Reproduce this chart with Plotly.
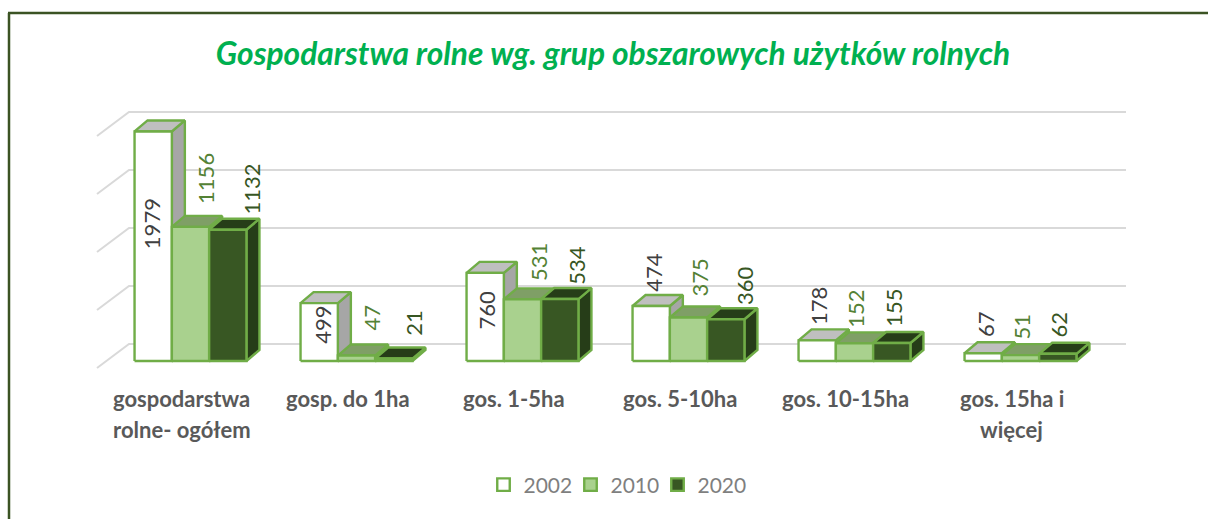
import plotly.graph_objects as go

TITLE = "Gospodarstwa rolne wg. grup obszarowych użytków rolnych"
CATEGORY_LINES = [
    ["gospodarstwa", "rolne- ogółem"],
    ["gosp. do 1ha"],
    ["gos. 1-5ha"],
    ["gos. 5-10ha"],
    ["gos. 10-15ha"],
    ["gos. 15ha i", "więcej"],
]
YEARS = ["2002", "2010", "2020"]
VALUES_2002 = [1979, 499, 760, 474, 178, 67]
VALUES_2010 = [1156, 47, 531, 375, 152, 51]
VALUES_2020 = [1132, 21, 534, 360, 155, 62]
GRID_VALUES = [0, 500, 1000, 1500, 2000]

# styling and layout (not data)
FONT = "Lato"
OUTLINE = "#70AD47"
FRONT = ["#FFFFFF", "#A9D18E", "#385723"]
TOP = ["#BFBFBF", "#7F9F66", "#263D18"]
SIDE = ["#A6A6A6", "#7F9F66", "#263D18"]
LABEL_COL = ["#404040", "#548235", "#375623"]

PX_PER_CAT = 166.0
PX_PER_VAL = 0.116
X0_PX, Y0_PX = 190.5, 361.0
L, R, T, B = 90, 1135, 100, 375
BAR_W = 37.3 / PX_PER_CAT
DX = 13 / PX_PER_CAT
DY = 11 / PX_PER_VAL
FLOOR_BACK = 17 / PX_PER_VAL
FLOOR_FRONT = -7 / PX_PER_VAL
GRID_X0 = (129 - X0_PX) / PX_PER_CAT
GRID_X1 = (1126 - X0_PX) / PX_PER_CAT
GRID_XF = (97 - X0_PX) / PX_PER_CAT
# per-label nudges in pixels from the bar's top-centre: (right, up)
NUDGE = [
    [(-1.5, -92), (2.5, -22), (1.5, -37), (1.5, 34), (1.5, 34), (2.5, 29)],
    [(15.5, 48), (15, 37.5), (16, 37), (10, 39.5), (1, 34), (1, 28)],
    [(24, 41), (20, 35.6), (16, 34), (18, 34), (1, 35), (1, 29)],
]


def paper_x(px):
    return (px - L) / (R - L)


def paper_y(py):
    return (B - py) / (B - T)


fig = go.Figure()

# back wall and floor lines, from the value axis
gx, gy = [], []
for g in GRID_VALUES:
    v = g + FLOOR_BACK
    gx += [GRID_XF, GRID_X0, GRID_X1, None]
    gy += [g + FLOOR_FRONT, v, v, None]
fig.add_trace(go.Scatter(x=gx, y=gy, mode="lines", showlegend=False, hoverinfo="skip",
                         line=dict(color="#D9D9D9", width=2)))


def poly(faces):
    xs, ys = [], []
    for f in faces:
        xs += [p[0] for p in f] + [f[0][0], None]
        ys += [p[1] for p in f] + [f[0][1], None]
    return xs, ys


def add_faces(faces, fill):
    xs, ys = poly(faces)
    fig.add_trace(go.Scatter(x=xs, y=ys, mode="lines", fill="toself", fillcolor=fill,
                             showlegend=False, hoverinfo="skip",
                             line=dict(color=OUTLINE, width=2.4, simplify=False)))


annotations = []
for s, vals in enumerate([VALUES_2002, VALUES_2010, VALUES_2020]):
    sides, tops, fronts = [], [], []
    for i, v in enumerate(vals):
        x0 = i + (s - 1.5) * BAR_W
        x1 = x0 + BAR_W
        sides.append([(x1, 0), (x1 + DX, DY), (x1 + DX, v + DY), (x1, v)])
        tops.append([(x0, v), (x0 + DX, v + DY), (x1 + DX, v + DY), (x1, v)])
        fronts.append([(x0, 0), (x0, v), (x1, v), (x1, 0)])
        nx, ny = NUDGE[s][i]
        annotations.append(dict(x=(x0 + x1) / 2, y=v, xref="x", yref="y", text=str(v),
                                showarrow=False, textangle=-90, xshift=nx, yshift=ny,
                                xanchor="center", yanchor="middle",
                                font=dict(family=FONT, size=22, color=LABEL_COL[s])))
    add_faces(sides, SIDE[s])
    add_faces(tops, TOP[s])
    add_faces(fronts, FRONT[s])

# legend keys
for s, y in enumerate(YEARS):
    fig.add_trace(go.Scatter(x=[None], y=[None], mode="markers", name=y,
                             marker=dict(symbol="square", size=12.5, color=FRONT[s],
                                         line=dict(color=OUTLINE, width=2.4))))

# category labels, one annotation per line
for i, lines in enumerate(CATEGORY_LINES):
    for j, line in enumerate(lines):
        annotations.append(dict(x=i - 0.054, y=paper_y(398 + 31 * j), xref="x", yref="paper",
                                text=f"<b>{line}</b>", showarrow=False, xanchor="center", yanchor="middle",
                                font=dict(family=FONT, size=22, color="#595959")))

fig.update_layout(
    width=1208, height=519,
    margin=dict(l=L, r=1208 - R, t=T, b=519 - B),
    paper_bgcolor="white", plot_bgcolor="white",
    title=dict(text=f"<b><i>{TITLE}</i></b>", x=613 / 1208, y=1 - 54 / 519, xref="container", yref="container",
               xanchor="center", yanchor="middle",
               font=dict(family=FONT, size=31.7, color="#00B050")),
    xaxis=dict(visible=False, range=[(L - X0_PX) / PX_PER_CAT, (R - X0_PX) / PX_PER_CAT]),
    yaxis=dict(visible=False, range=[(Y0_PX - B) / PX_PER_VAL, (Y0_PX - T) / PX_PER_VAL]),
    legend=dict(orientation="h", x=paper_x(614), y=paper_y(485), xanchor="center", yanchor="middle",
                font=dict(family=FONT, size=21, color="#7F7F7F"), itemwidth=30,
                entrywidth=42, entrywidthmode="pixels",
                bgcolor="rgba(0,0,0,0)"),
    annotations=annotations,
    shapes=[dict(type="line", xref="paper", yref="paper", x0=paper_x(9), x1=paper_x(9), y0=paper_y(519), y1=paper_y(13),
                 line=dict(color="#3B5323", width=2.5)),
            dict(type="line", xref="paper", yref="paper", x0=paper_x(8), x1=paper_x(1208), y0=paper_y(13), y1=paper_y(13),
                 line=dict(color="#3B5323", width=2.5))],
    showlegend=True,
)

fig.write_html("out.html", config={"displayModeBar": False},
               post_script="document.body.style.margin='0';document.documentElement.style.overflow='hidden';"
                           "document.querySelectorAll('.legend .scrollbox').forEach(function(e){e.removeAttribute('clip-path');e.style.clipPath='none';});")
